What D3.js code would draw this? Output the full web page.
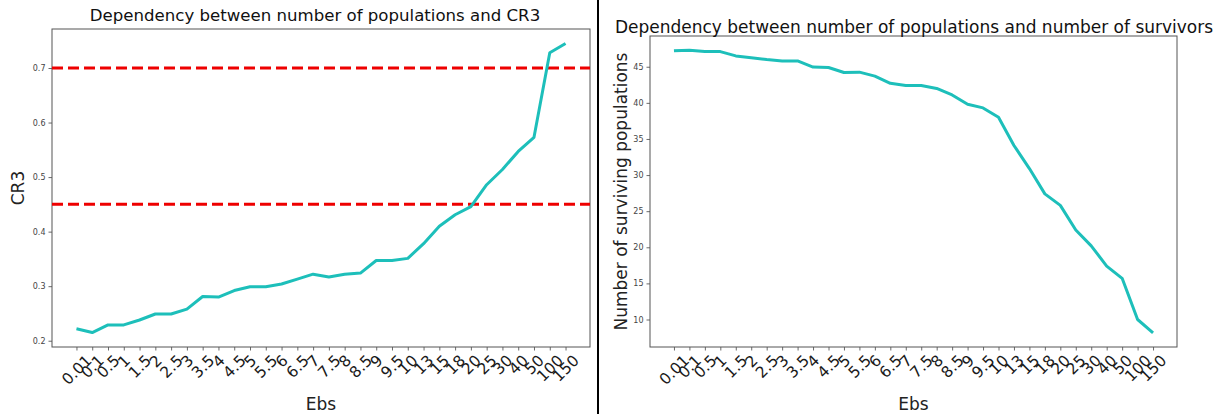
<!DOCTYPE html>
<html>
<head>
<meta charset="utf-8">
<script src="https://cdn.jsdelivr.net/npm/d3@7"></script>
<style>
  body { margin: 0; background: #fff; }
  svg text { font-family: "DejaVu Sans", sans-serif; }
</style>
</head>
<body>
<div id="chart"></div>
<script>
// x categories (Ebs)
const ebs = ['0.01', '0.1', '0.5', '1', '1.5', '2', '2.5', '3', '3.5', '4', '4.5', '5', '5.5', '6', '6.5', '7',
  '7.5', '8', '8.5', '9', '9.5', '10', '13', '15', '18', '20', '25', '30', '40', '50', '100', '150'];

// CR3 per Ebs value
const cr3 = [0.222, 0.215, 0.229, 0.229, 0.238, 0.249, 0.249, 0.258, 0.281, 0.280, 0.292, 0.299, 0.299, 0.304,
  0.313, 0.322, 0.317, 0.322, 0.324, 0.347, 0.347, 0.351, 0.378, 0.410, 0.431, 0.446, 0.486, 0.514, 0.547,
  0.573, 0.728, 0.745];

// number of surviving populations per Ebs value
const survivors = [47.2, 47.3, 47.1, 47.1, 46.5, 46.25, 46.0, 45.8, 45.8, 44.95, 44.9, 44.2, 44.25, 43.7, 42.7,
  42.4, 42.4, 42.0, 41.1, 39.8, 39.3, 38.0, 34.1, 30.9, 27.4, 25.8, 22.4, 20.2, 17.4, 15.7, 10.0, 8.15];

const cr3Thresholds = [0.7, 0.45];
const cr3Ticks = [0.2, 0.3, 0.4, 0.5, 0.6, 0.7];
const survivorTicks = [10, 15, 20, 25, 30, 35, 40, 45];

const W = 1229, H = 414;
const lineColor = '#1dbfba';

const svg = d3.select('#chart').append('svg')
  .attr('width', W)
  .attr('height', H);

function drawPanel(opts) {
  const { box, values, yTicks, title, titleX, titleY, yLabel, yLabelX, hlines, yFormat } = opts;

  // matplotlib style 5% margins
  const x = d3.scalePoint()
    .domain(ebs)
    .range([box.left, box.right])
    .padding(0.05 * (ebs.length - 1));

  const ext = d3.extent(values);
  const yPad = (ext[1] - ext[0]) * 0.05;
  const y = d3.scaleLinear()
    .domain([ext[0] - yPad, ext[1] + yPad])
    .range([box.bottom, box.top]);

  const g = svg.append('g');

  // y axis
  const yAxis = g.append('g')
    .attr('transform', `translate(${box.left},0)`)
    .call(d3.axisLeft(y).tickValues(yTicks).tickSize(3.5).tickPadding(3).tickFormat(yFormat));
  yAxis.select('.domain').remove();
  yAxis.selectAll('line').attr('stroke', '#444').attr('stroke-width', 0.8);
  yAxis.selectAll('text').attr('fill', '#444').style('font-size', '8px');

  // x axis, labels rotated 45deg and centred under the tick
  const xAxis = g.append('g')
    .attr('transform', `translate(0,${box.bottom})`)
    .call(d3.axisBottom(x).tickSize(3.5).tickFormat(d => d));
  xAxis.select('.domain').remove();
  xAxis.selectAll('line').attr('stroke', '#444').attr('stroke-width', 0.8);
  xAxis.selectAll('.tick text')
    .attr('fill', '#1a1a1a')
    .style('font-size', '15.5px')
    .attr('y', null)
    .attr('dy', null)
    .attr('text-anchor', 'middle')
    .attr('dominant-baseline', 'central')
    .attr('transform', function() {
      const len = this.getComputedTextLength();
      const h = 15.5 * 0.9;
      const off = 6 + (len + h) * 0.7071 / 2;
      return `translate(0,${off}) rotate(-45)`;
    });

  // axes frame
  g.append('rect')
    .attr('x', box.left)
    .attr('y', box.top)
    .attr('width', box.right - box.left)
    .attr('height', box.bottom - box.top)
    .attr('fill', 'none')
    .attr('stroke', '#555')
    .attr('stroke-width', 1);

  // threshold lines
  hlines.forEach(v => {
    g.append('line')
      .attr('x1', box.left)
      .attr('x2', box.right)
      .attr('y1', y(v))
      .attr('y2', y(v))
      .attr('stroke', '#ee0000')
      .attr('stroke-width', 3)
      .attr('stroke-dasharray', '11,5');
  });

  // data line
  g.append('path')
    .datum(values)
    .attr('fill', 'none')
    .attr('stroke', lineColor)
    .attr('stroke-width', 3)
    .attr('stroke-linejoin', 'round')
    .attr('d', d3.line().x((d, i) => x(ebs[i])).y(d => y(d)));

  // title
  g.append('text')
    .attr('x', titleX)
    .attr('y', titleY)
    .attr('text-anchor', 'middle')
    .attr('fill', '#111')
    .style('font-size', opts.titleSize)
    .text(title);

  // x label
  g.append('text')
    .attr('x', (box.left + box.right) / 2)
    .attr('y', 410)
    .attr('text-anchor', 'middle')
    .attr('fill', '#222')
    .style('font-size', '17px')
    .text('Ebs');

  // y label
  g.append('text')
    .attr('transform', `translate(${yLabelX},${(box.top + box.bottom) / 2}) rotate(-90)`)
    .attr('text-anchor', 'middle')
    .attr('dominant-baseline', 'central')
    .attr('fill', '#222')
    .style('font-size', opts.yLabelSize)
    .text(yLabel);
}

drawPanel({
  box: { left: 52, right: 590, top: 29, bottom: 347 },
  values: cr3,
  yTicks: cr3Ticks,
  yFormat: d3.format('.1f'),
  title: 'Dependency between number of populations and CR3',
  titleX: 315,
  titleY: 21,
  titleSize: '16.6px',
  yLabel: 'CR3',
  yLabelX: 18,
  yLabelSize: '17px',
  hlines: cr3Thresholds
});

drawPanel({
  box: { left: 650, right: 1177, top: 36, bottom: 347 },
  values: survivors,
  yTicks: survivorTicks,
  yFormat: d3.format('d'),
  title: 'Dependency between number of populations and number of survivors',
  titleX: 914,
  titleY: 33,
  titleSize: '17px',
  yLabel: 'Number of surviving populations',
  yLabelX: 621,
  yLabelSize: '17px',
  hlines: []
});

// separator between the two panels
svg.append('line')
  .attr('x1', 598)
  .attr('x2', 598)
  .attr('y1', 0)
  .attr('y2', H)
  .attr('stroke', '#000')
  .attr('stroke-width', 2);
</script>
</body>
</html>
